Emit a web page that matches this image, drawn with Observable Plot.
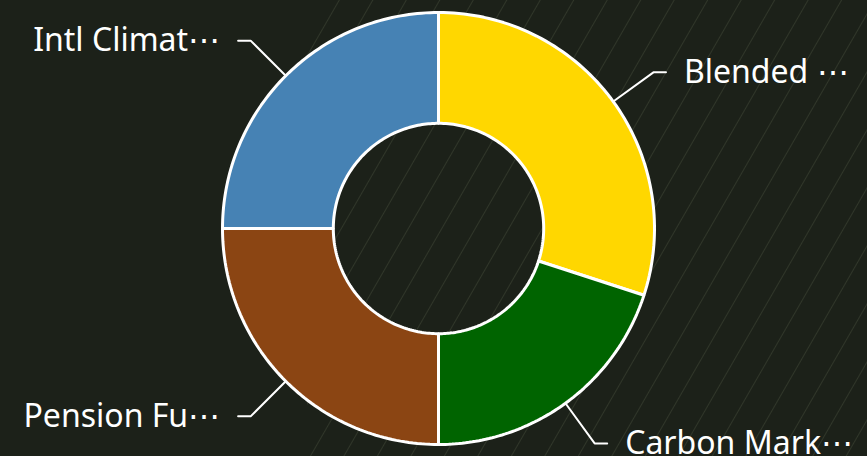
<!DOCTYPE html>
<html>
<head>
<meta charset="utf-8">
<script src="https://cdn.jsdelivr.net/npm/d3@7"></script>
<script src="https://cdn.jsdelivr.net/npm/@observablehq/plot@0.6"></script>
<style>
  html, body { margin: 0; padding: 0; background: #1c2119; }
  #chart {
    width: 867px; height: 456px; overflow: hidden;
    background-color: #1c2119;
    background-image: repeating-linear-gradient(120deg, rgba(120,130,100,0) 0px, rgba(120,130,100,0) 27px, rgba(120,130,100,0.22) 28px, rgba(120,130,100,0) 29px);
    background-size: 560px 456px;
    background-position: right top;
    background-repeat: no-repeat;
  }
</style>
</head>
<body>
<div id="chart"></div>
<script>
// Data
const categories = ["Blended", "Carbon Mark", "Pension Fu", "Intl Climat"];
const values = [30, 20, 25, 25];
const labels = ["Blended \u22EF", "Carbon Mark\u22EF", "Pension Fu\u22EF", "Intl Climat\u22EF"];
const colors = ["#FFD700", "#006400", "#8B4513", "#4682B4"];

const W = 867, H = 456;
const cx = 438, cy = 228, R = 216; // layout in pixels -> unit scale
const innerRatio = 0.487;

const arcs = d3.pie().sort(null).value(d => d)(values);

// Slice polygons in unit coordinates (y up)
const slicePts = [];
arcs.forEach((a, i) => {
  const n = 80;
  for (let k = 0; k <= n; k++) {
    const t = a.startAngle + (a.endAngle - a.startAngle) * k / n;
    slicePts.push({name: categories[i], x: Math.sin(t), y: Math.cos(t)});
  }
  for (let k = n; k >= 0; k--) {
    const t = a.startAngle + (a.endAngle - a.startAngle) * k / n;
    slicePts.push({name: categories[i], x: innerRatio * Math.sin(t), y: innerRatio * Math.cos(t)});
  }
});

// Leader lines and labels
const leaderPts = [];
const labelData = [];
arcs.forEach((a, i) => {
  const m = (a.startAngle + a.endAngle) / 2;
  const s = Math.sin(m) >= 0 ? 1 : -1;
  const ex = 1.23 * Math.sin(m), ey = 1.23 * Math.cos(m);
  leaderPts.push({name: categories[i], x: 1.0 * Math.sin(m), y: 1.0 * Math.cos(m)});
  leaderPts.push({name: categories[i], x: ex, y: ey});
  leaderPts.push({name: categories[i], x: ex + s * 0.058, y: ey});
  labelData.push({text: labels[i], x: ex + s * 0.058, y: ey, anchor: s > 0 ? "start" : "end"});
});

const xDomain = [-cx / R, (W - cx) / R];
const yDomain = [-(H - cy) / R, cy / R];

const plot = Plot.plot({
  width: W, height: H,
  margin: 0,
  style: {background: "transparent", overflow: "visible"},
  x: {domain: xDomain, axis: null},
  y: {domain: yDomain, axis: null},
  color: {domain: categories, range: colors},
  marks: [
    Plot.line(slicePts, {x: "x", y: "y", z: "name", fill: "name", stroke: "white", strokeWidth: 3, curve: "linear-closed", strokeLinejoin: "miter"}),
    Plot.line(leaderPts, {x: "x", y: "y", z: "name", stroke: "white", strokeWidth: 2}),
    Plot.text(labelData.filter(d => d.anchor === "start"), {x: "x", y: "y", text: "text", textAnchor: "start", dx: 18, fill: "white", fontSize: 32, fontFamily: "Noto Sans"}),
    Plot.text(labelData.filter(d => d.anchor === "end"), {x: "x", y: "y", text: "text", textAnchor: "end", dx: -18, fill: "white", fontSize: 32, fontFamily: "Noto Sans"})
  ]
});
document.getElementById("chart").appendChild(plot);
</script>
</body>
</html>
